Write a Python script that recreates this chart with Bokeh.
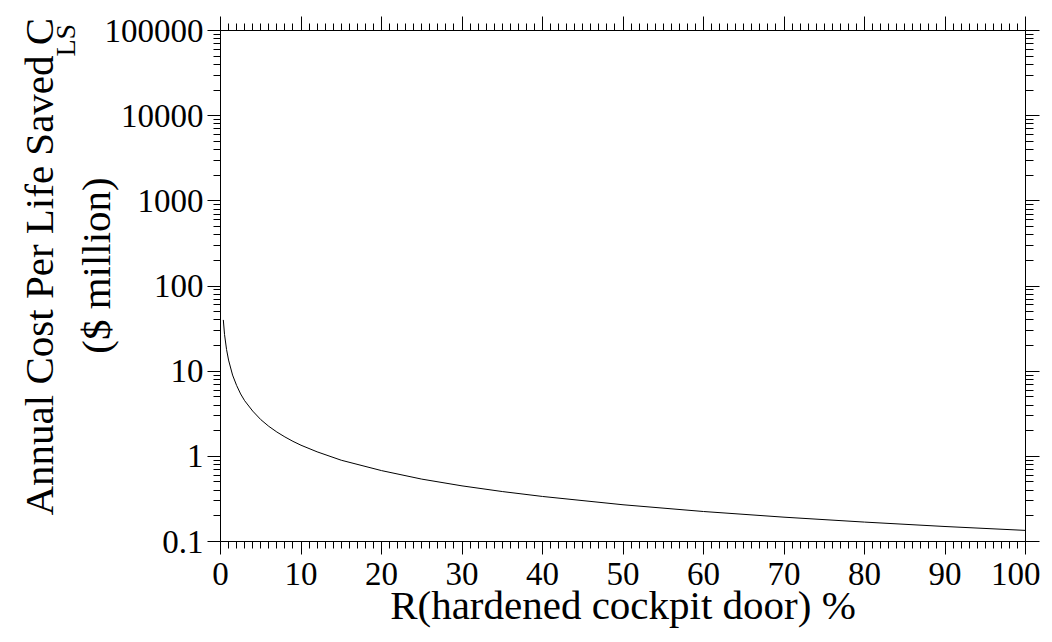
from bokeh.plotting import figure
from bokeh.models import (Range1d, LinearAxis, LogAxis, FixedTicker,
                          CustomJSTickFormatter, Title)
from bokeh.embed import file_html
from bokeh.resources import INLINE

# Data
R_percent = [0.35, 0.5, 0.75, 1, 1.5, 2, 2.5, 3, 4, 5, 6, 7, 8, 9, 10, 12, 15,
             20, 25, 30, 35, 40, 50, 60, 70, 80, 90, 100]
cost_per_life = [40, 27, 18, 13.5, 9.0, 6.8, 5.4, 4.5, 3.4, 2.7, 2.25, 1.93,
                 1.69, 1.5, 1.35, 1.13, 0.9, 0.68, 0.54, 0.45, 0.386, 0.338,
                 0.27, 0.225, 0.193, 0.169, 0.15, 0.135]

x_major_ticks = [0, 10, 20, 30, 40, 50, 60, 70, 80, 90, 100]
x_minor_ticks = list(range(0, 101))
y_major_ticks = [0.1, 1, 10, 100, 1000, 10000, 100000]
y_minor_ticks = [m * d for d in [0.1, 1, 10, 100, 1000, 10000] for m in range(2, 10)]

x_label_text = "R(hardened cockpit door) %"
y_label_line1 = "Annual Cost Per Life Saved C"
y_label_sub = "LS"
y_label_line2 = "\u00a0\u00a0\u00a0\u00a0($ million)"

FONT = "Liberation Serif"

p = figure(width=1040, height=630, x_range=Range1d(0, 100),
           y_range=Range1d(0.1, 100000), y_axis_type="log",
           output_backend="svg", toolbar_location=None,
           min_border_left=220, min_border_right=15,
           min_border_top=30, min_border_bottom=89)
p.outline_line_color = None
p.xgrid.visible = False
p.ygrid.visible = False
p.background_fill_color = "white"
p.border_fill_color = "white"

p.line(R_percent, cost_per_life, line_color="black", line_width=1)

x_ticker = FixedTicker(ticks=x_major_ticks, minor_ticks=x_minor_ticks)
y_ticker = FixedTicker(ticks=y_major_ticks, minor_ticks=y_minor_ticks)
blank = CustomJSTickFormatter(code="return '';")


def style(ax, major_out, minor_out):
    ax.axis_line_color = "black"
    ax.axis_line_width = 1
    ax.major_tick_line_color = "black"
    ax.minor_tick_line_color = "black"
    ax.major_tick_out = major_out
    ax.major_tick_in = 0
    ax.minor_tick_out = minor_out
    ax.minor_tick_in = 0
    ax.major_label_text_font = FONT
    ax.major_label_text_color = "black"
    ax.major_label_text_font_size = "33px"
    ax.axis_label_text_font = FONT
    ax.axis_label_text_font_style = "normal"
    ax.axis_label_text_color = "black"


xb = p.xaxis[0]
xb.ticker = x_ticker
style(xb, 13, 7)
xb.major_label_standoff = 8
xb.axis_label = x_label_text
xb.axis_label_text_font_size = "41px"
xb.axis_label_standoff = -6

yl = p.yaxis[0]
yl.ticker = y_ticker
yl.formatter = CustomJSTickFormatter(
    code="return (tick < 1) ? tick.toFixed(1) : tick.toFixed(0);")
style(yl, 13, 7)
yl.major_label_standoff = 4
yl.axis_label = y_label_line2
yl.axis_label_text_font_size = "41px"
yl.axis_label_standoff = -17

xt = LinearAxis(ticker=x_ticker, formatter=blank)
style(xt, 14, 7)
xt.major_label_text_font_size = "0px"
xt.major_label_standoff = 0
p.add_layout(xt, "above")

yr = LogAxis(ticker=y_ticker, formatter=blank)
style(yr, 14, 8)
yr.major_label_text_font_size = "0px"
yr.major_label_standoff = 0
p.add_layout(yr, "right")

# First line of the y title plus its subscript, stacked outside the axis
p.add_layout(Title(text=y_label_sub, align="left", offset=485,
                   vertical_align="bottom", standoff=-22,
                   text_font=FONT, text_font_size="28px",
                   text_font_style="normal", text_color="black"), "left")
p.add_layout(Title(text=y_label_line1, align="left", offset=26,
                   vertical_align="bottom", standoff=-7,
                   text_font=FONT, text_font_size="41px",
                   text_font_style="normal", text_color="black"), "left")

open("out.html", "w").write(file_html(p, INLINE))
